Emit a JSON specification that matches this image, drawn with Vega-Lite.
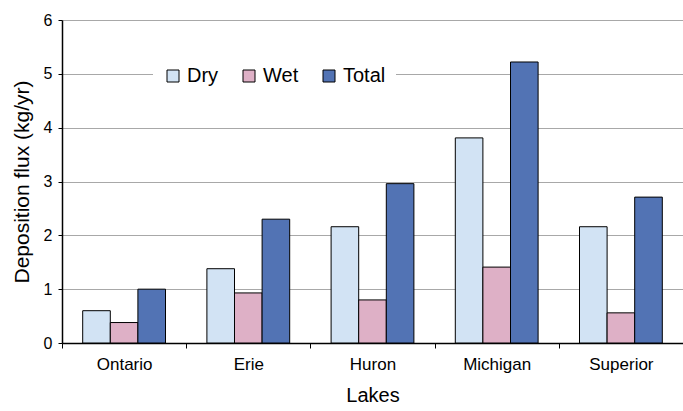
{
  "$schema": "https://vega.github.io/schema/vega-lite/v6.json",
  "width": 621,
  "height": 323,
  "autosize": {"type": "none"},
  "padding": {"left": 62, "top": 20, "right": 0, "bottom": 68},
  "background": "white",
  "config": {
    "font": "Liberation Sans",
    "view": {"stroke": null}
  },
  "data": {
    "values": [
      {"lake": "Ontario", "type": "Dry", "flux": 0.6},
      {"lake": "Ontario", "type": "Wet", "flux": 0.38},
      {"lake": "Ontario", "type": "Total", "flux": 1.0},
      {"lake": "Erie", "type": "Dry", "flux": 1.38},
      {"lake": "Erie", "type": "Wet", "flux": 0.93},
      {"lake": "Erie", "type": "Total", "flux": 2.3},
      {"lake": "Huron", "type": "Dry", "flux": 2.16},
      {"lake": "Huron", "type": "Wet", "flux": 0.8},
      {"lake": "Huron", "type": "Total", "flux": 2.96},
      {"lake": "Michigan", "type": "Dry", "flux": 3.81},
      {"lake": "Michigan", "type": "Wet", "flux": 1.41},
      {"lake": "Michigan", "type": "Total", "flux": 5.22},
      {"lake": "Superior", "type": "Dry", "flux": 2.16},
      {"lake": "Superior", "type": "Wet", "flux": 0.56},
      {"lake": "Superior", "type": "Total", "flux": 2.71}
    ]
  },
  "mark": {"type": "bar", "stroke": "black", "strokeWidth": 1},
  "encoding": {
    "x": {
      "field": "lake",
      "type": "nominal",
      "sort": ["Ontario", "Erie", "Huron", "Michigan", "Superior"],
      "scale": {"paddingInner": 0, "paddingOuter": 0},
      "axis": {
        "title": "Lakes",
        "titleFontSize": 20,
        "titleFontWeight": "normal",
        "titleColor": "black",
        "titlePadding": 13,
        "labelFontSize": 17,
        "labelColor": "black",
        "labelAngle": 0,
        "labelPadding": 8,
        "tickBand": "extent",
        "tickColor": "black",
        "tickSize": 5,
        "domainColor": "black",
        "domainWidth": 1.5
      }
    },
    "xOffset": {
      "field": "type",
      "type": "nominal",
      "sort": ["Dry", "Wet", "Total"],
      "scale": {"paddingInner": 0, "paddingOuter": 0.75}
    },
    "y": {
      "field": "flux",
      "type": "quantitative",
      "scale": {"domain": [0, 6], "nice": false},
      "axis": {
        "title": "Deposition flux (kg/yr)",
        "titleFontSize": 21,
        "titleFontWeight": "normal",
        "titleColor": "black",
        "titlePadding": 11,
        "values": [0, 1, 2, 3, 4, 5, 6],
        "labelFontSize": 16,
        "labelColor": "black",
        "labelPadding": 6,
        "tickColor": "black",
        "tickSize": 4,
        "domainColor": "black",
        "domainWidth": 1.5,
        "gridColor": "#a8a8a8",
        "gridWidth": 1
      }
    },
    "fill": {
      "field": "type",
      "type": "nominal",
      "sort": ["Dry", "Wet", "Total"],
      "scale": {
        "domain": ["Dry", "Wet", "Total"],
        "range": ["#d2e3f4", "#deb0c6", "#5273b4"]
      },
      "legend": {
        "title": null,
        "orient": "none",
        "direction": "horizontal",
        "legendX": 91,
        "legendY": 36,
        "padding": 10,
        "fillColor": "white",
        "symbolType": "square",
        "symbolSize": 144,
        "symbolStrokeColor": "black",
        "symbolStrokeWidth": 1,
        "labelFontSize": 20,
        "labelColor": "black",
        "labelOffset": 4,
        "columnPadding": 20
      }
    }
  }
}
